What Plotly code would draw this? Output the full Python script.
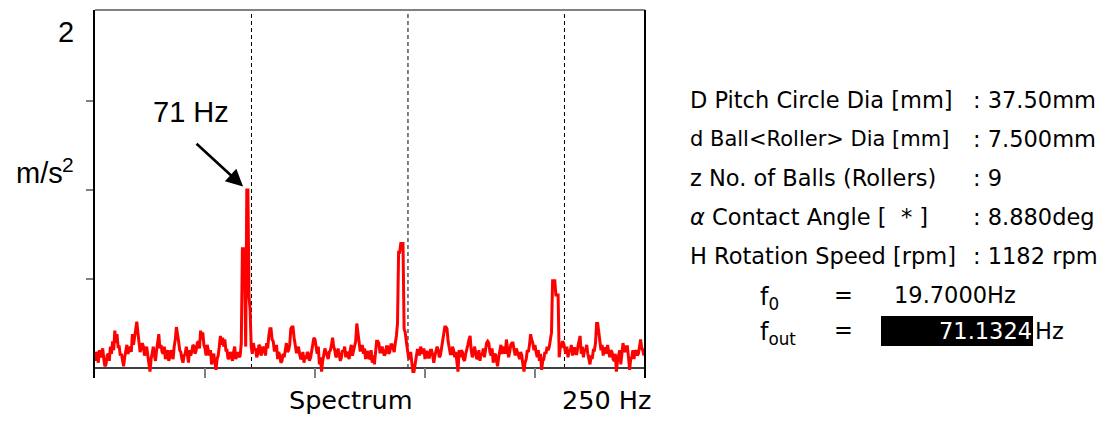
import plotly.graph_objects as go

# ---------------- data ----------------
freq_step_hz = 0.5
# acceleration spectrum [m/s^2], 0 ... 250 Hz in 0.5 Hz bins (10 values = 5 Hz per row)
accel = [
    0.04, 0.09, 0.07, 0.03, 0.10, 0.06, 0.08, 0.11, 0.05, 0.01,
    0.02, 0.07, 0.08, 0.04, 0.12, 0.08, 0.15, 0.10, 0.21, 0.14,
    0.19, 0.12, 0.12, 0.07, 0.08, 0.03, 0.01, 0.06, 0.10, 0.13,
    0.08, 0.11, 0.12, 0.09, 0.19, 0.13, 0.18, 0.22, 0.26, 0.20,
    0.13, 0.09, 0.11, 0.14, 0.12, 0.07, 0.09, 0.12, 0.07, 0.03,
    -0.02, 0.05, 0.08, 0.12, 0.07, 0.04, 0.10, 0.14, 0.19, 0.11,
    0.13, 0.09, 0.08, 0.12, 0.05, 0.08, 0.10, 0.04, 0.06, 0.10,
    0.08, 0.05, 0.12, 0.16, 0.23, 0.17, 0.15, 0.10, 0.09, 0.05,
    0.03, 0.07, 0.08, 0.12, 0.06, 0.03, 0.10, 0.07, 0.09, 0.13,
    0.12, 0.08, 0.10, 0.14, 0.15, 0.11, 0.21, 0.16, 0.20, 0.13,
    0.11, 0.07, 0.13, 0.09, 0.07, 0.10, 0.02, 0.06, 0.08, 0.03,
    -0.01, 0.05, 0.07, 0.12, 0.18, 0.13, 0.17, 0.12, 0.16, 0.10,
    0.10, 0.05, 0.06, 0.09, 0.07, 0.04, 0.09, 0.12, 0.05, 0.08,
    0.09, 0.06, 0.07, 0.14, 0.67, 0.67, 0.60, 0.12, 1.00, 1.00,
    0.40, 0.33, 0.12, 0.08, 0.14, 0.10, 0.11, 0.06, 0.08, 0.13,
    0.12, 0.07, 0.09, 0.12, 0.10, 0.07, 0.14, 0.11, 0.18, 0.22,
    0.22, 0.16, 0.15, 0.10, 0.10, 0.13, 0.05, 0.09, 0.07, 0.03,
    0.04, 0.08, 0.06, 0.10, 0.14, 0.09, 0.10, 0.13, 0.22, 0.23,
    0.23, 0.17, 0.13, 0.09, 0.09, 0.12, 0.08, 0.05, 0.06, 0.09,
    0.03, 0.07, 0.05, 0.09, 0.08, 0.04, 0.06, 0.10, 0.14, 0.17,
    0.16, 0.11, 0.08, 0.12, 0.02, 0.06, -0.02, 0.04, 0.07, 0.11,
    0.09, 0.06, 0.05, 0.09, 0.10, 0.13, 0.17, 0.12, 0.10, 0.06,
    0.07, 0.11, 0.08, 0.04, 0.06, 0.10, 0.09, 0.12, 0.06, 0.09,
    0.08, 0.05, 0.10, 0.13, 0.07, 0.10, 0.11, 0.15, 0.25, 0.19,
    0.15, 0.10, 0.10, 0.13, 0.08, 0.11, 0.05, 0.09, 0.09, 0.05,
    0.06, 0.10, 0.03, 0.07, 0.02, 0.08, 0.15, 0.15, 0.14, 0.09,
    0.09, 0.12, 0.10, 0.07, 0.08, 0.12, 0.12, 0.08, 0.09, 0.13,
    0.13, 0.10, 0.09, 0.14, 0.18, 0.25, 0.65, 0.65, 0.70, 0.70,
    0.70, 0.22, 0.20, 0.15, 0.10, 0.06, 0.05, 0.09, 0.03, -0.02,
    -0.02, 0.03, 0.06, 0.10, 0.10, 0.07, 0.12, 0.09, 0.08, 0.11,
    0.05, 0.09, 0.09, 0.06, 0.06, 0.10, 0.10, 0.07, 0.03, 0.07,
    0.09, 0.12, 0.10, 0.06, 0.07, 0.11, 0.15, 0.20, 0.23, 0.23,
    0.22, 0.15, 0.12, 0.08, 0.08, 0.12, 0.10, 0.06, 0.09, 0.04,
    -0.02, 0.10, 0.06, 0.10, 0.09, 0.05, 0.04, 0.08, 0.10, 0.13,
    0.16, 0.18, 0.10, 0.06, 0.08, 0.12, 0.09, 0.05, 0.06, 0.10,
    0.04, 0.08, 0.07, 0.11, 0.06, 0.10, 0.14, 0.15, 0.14, 0.09,
    0.07, 0.11, 0.03, 0.07, 0.08, 0.04, 0.01, 0.06, 0.10, 0.13,
    0.08, 0.11, 0.12, 0.08, 0.16, 0.11, 0.06, 0.09, 0.13, 0.14,
    0.14, 0.10, 0.07, 0.11, 0.09, 0.06, 0.05, 0.09, 0.07, 0.02,
    -0.02, 0.03, 0.05, 0.10, 0.09, 0.13, 0.19, 0.16, 0.14, 0.10,
    0.13, 0.09, 0.06, 0.10, 0.04, 0.08, -0.01, 0.04, 0.05, 0.09,
    0.08, 0.12, 0.10, 0.12, 0.18, 0.20, 0.49, 0.49, 0.49, 0.41,
    0.41, 0.41, 0.06, 0.12, 0.12, 0.15, 0.14, 0.10, 0.08, 0.12,
    0.06, 0.10, 0.09, 0.13, 0.07, 0.11, 0.11, 0.08, 0.08, 0.12,
    0.15, 0.18, 0.08, 0.12, 0.06, 0.10, 0.10, 0.13, 0.08, 0.05,
    0.02, 0.07, 0.05, 0.10, 0.10, 0.14, 0.25, 0.25, 0.20, 0.14,
    0.10, 0.13, 0.07, 0.11, 0.11, 0.08, 0.13, 0.09, 0.06, 0.10,
    0.09, 0.05, 0.04, 0.08, -0.02, 0.04, 0.07, 0.10, 0.02, 0.08,
    0.14, 0.10, 0.09, 0.12, 0.12, 0.06, -0.01, 0.05, 0.06, 0.10,
    0.05, 0.09, 0.10, 0.07, 0.08, 0.12, 0.16, 0.11, 0.10, 0.07,
    0.11,
]
freq_hz = [i * freq_step_hz for i in range(len(accel))]
x_ticks = [0, 50, 100, 150, 200, 250]
y_ticks = [0.5, 1.0, 1.5]
harmonics = [1, 2, 3]
f_out = 71.1324
f_0 = 19.7000
peak_label = "71 Hz"
param_labels = [
    "D Pitch Circle Dia [mm]",
    "d Ball&lt;Roller&gt; Dia [mm]",
    "z No. of Balls (Rollers)",
    "<i>\u03b1</i> Contact Angle [\u00a0\u00a0*\u00a0]",
    "H Rotation Speed [rpm]",
]
param_values = [": 37.50mm", ": 7.500mm", ": 9", ": 8.880deg", ": 1182 rpm"]

# ---------------- layout helpers ----------------
# page body has an 8 px margin, so the figure is offset by (8, 8) on screen
W, H = 1098, 415
L, T = 87, 2
PW, PH = 550, 368
R, B = W - L - PW, H - T - PH

# screen-pixel -> paper coordinates (plot area spans x 95..645, y 10..378 on screen)


def px(x):
    return (x - 95) / PW


def py(y):
    return (378 - y) / PH


fig = go.Figure()
fig.add_trace(go.Scatter(
    x=freq_hz, y=accel, mode="lines",
    line=dict(color="#ff0000", width=3),
    hoverinfo="skip", showlegend=False,
))

shapes = []
for k in harmonics:
    shapes.append(dict(type="line", xref="x", yref="paper", x0=k * f_out, x1=k * f_out,
                       y0=py(368), y1=1, line=dict(color="black", width=1, dash="4px,3px"),
                       layer="below"))
# frame: top (grey) and right (black)
shapes.append(dict(type="line", xref="paper", yref="paper", x0=0, x1=1, y0=1, y1=1,
                   line=dict(color="#808080", width=2)))
shapes.append(dict(type="line", xref="paper", yref="paper", x0=1, x1=1, y0=0, y1=1,
                   line=dict(color="black", width=2)))
# black value box
shapes.append(dict(type="rect", xref="paper", yref="paper", x0=px(881), x1=px(1033),
                   y0=py(346), y1=py(316), fillcolor="black", line=dict(width=0)))

ann = []
AR = "Liberation Sans"
DJ = "DejaVu Sans"


def txt(text, x, y, size, font=AR, xanchor="left", color="black"):
    ann.append(dict(text=text, x=px(x), y=py(y), xref="paper", yref="paper",
                    xanchor=xanchor, yanchor="middle", showarrow=False,
                    font=dict(family=font, size=size, color=color)))


txt("2", 66, 32, 29, xanchor="center")
txt("m/s", 65, 173, 29, xanchor="right")
txt("2", 60, 164, 21)
txt(peak_label, 191, 112, 29, xanchor="center")
txt("Spectrum", 351, 400, 25.5, font=DJ, xanchor="center")
txt(f"{x_ticks[-1]} Hz", 653, 400, 25.5, font=DJ, xanchor="right")

row_y = [100, 139, 178, 217, 256]
row_size = [22.5, 21, 22.5, 22.5, 22.5]
for lab, val, yy, fs in zip(param_labels, param_values, row_y, row_size):
    txt(lab, 688, yy, fs, font=DJ)
    txt(val, 971, yy, 22.5, font=DJ)

txt("f<sub>0</sub>", 758, 298, 24, font=DJ)
txt("=", 832, 295, 22.5, font=DJ)
txt(f"{f_0:.4f}Hz", 892, 295, 22.5, font=DJ)
txt("f<sub>out</sub>", 758, 333, 24, font=DJ)
txt("=", 832, 330, 22.5, font=DJ)
txt(f"{f_out:.4f}", 1034, 331, 22.5, font=DJ, xanchor="right", color="white")
txt("Hz", 1033, 331, 22.5, font=DJ)

# arrow to the peak
ann.append(dict(text="", x=67.3, y=1.02, xref="x", yref="y", ax=-48, ay=-44,
                showarrow=True, arrowhead=2, arrowsize=1.3, arrowwidth=2.6,
                arrowcolor="black"))

fig.update_layout(
    width=W, height=H,
    margin=dict(l=L, r=R, t=T, b=B, pad=0),
    paper_bgcolor="white", plot_bgcolor="white",
    shapes=shapes, annotations=ann,
    xaxis=dict(range=[0, 250], tickvals=x_ticks, showticklabels=False,
               ticks="inside", ticklen=10, tickwidth=2, tickcolor="#808080",
               showline=False, showgrid=False, zeroline=False, fixedrange=True),
    yaxis=dict(range=[-10 / 178, 2 + 2 / 178], tickvals=y_ticks, showticklabels=False,
               ticks="outside", ticklen=7, tickwidth=2, tickcolor="#808080",
               showline=True, linecolor="black", linewidth=2,
               showgrid=False, zeroline=True, zerolinecolor="#404040", zerolinewidth=2,
               fixedrange=True),
)

fig.write_html("out.html")
